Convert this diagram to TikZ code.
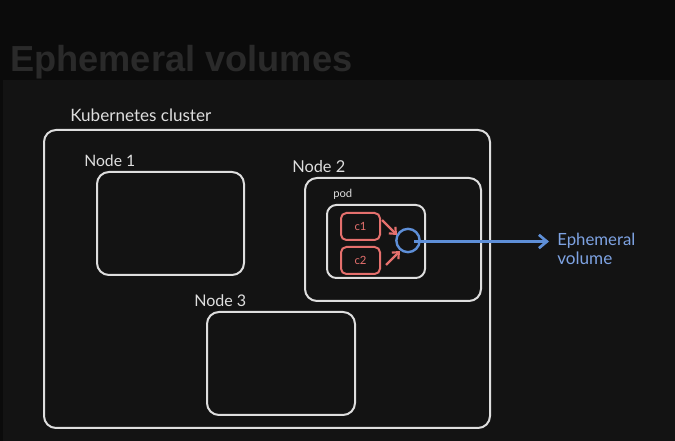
\documentclass[tikz,border=0pt]{standalone}
\usepackage{fontspec}
\setmainfont{Lato}
\newfontfamily\titlefont{Liberation Sans}
\usetikzlibrary{arrows.meta}
\definecolor{bgdark}{HTML}{0B0B0B}
\definecolor{bgpanel}{HTML}{131313}
\definecolor{titlegray}{HTML}{2A2A2A}
\definecolor{strokew}{HTML}{DEDEDE}
\definecolor{redc}{HTML}{E5706D}
\definecolor{bluec}{HTML}{5E8FD8}
\definecolor{bluet}{HTML}{7EA3E3}
\newcommand{\lbl}[2]{\resizebox{#1}{!}{#2}}
\tikzset{
  wbox/.style={draw=strokew, line width=1.5pt, rounded corners=9pt, inner sep=0pt},
  rbox/.style={draw=redc, line width=1.5pt, rounded corners=4pt, inner sep=0pt, minimum width=29.25pt, minimum height=20.25pt, text=redc},
  wlabel/.style={text=strokew, inner sep=0pt, anchor=west},
  rarrow/.style={draw=redc, line width=1.6pt, -{Straight Barb[length=4pt,width=7pt]}},
  barrow/.style={draw=bluec, line width=2pt, -{Straight Barb[length=6pt,width=10pt]}},
}
\begin{document}
\begin{tikzpicture}[x=0.75pt,y=-0.75pt]
\useasboundingbox (0,0) rectangle (675,441);
\fill[bgdark] (0,0) rectangle (675,441);
\fill[bgpanel] (3,80) rectangle (675,441);
\node[inner sep=0pt, anchor=base west, text=titlegray] (title) at (10,72) {\lbl{256.5pt}{\titlefont\bfseries Ephemeral volumes}};

% boxes
\node[wbox, minimum width=334.5pt, minimum height=223.5pt] (cluster) at (267,279) {};
\node[wbox, minimum width=110.25pt, minimum height=77.25pt] (node1) at (170.5,223.5) {};
\node[wbox, minimum width=132pt, minimum height=92.25pt] (node2) at (393,239.5) {};
\node[wbox, rounded corners=7pt, minimum width=73.5pt, minimum height=54.75pt] (pod) at (376,241.5) {};
\node[wbox, minimum width=111pt, minimum height=77.25pt] (node3) at (281,363.5) {};

% labels
\node[wlabel] (lcluster) at (70,115) {\lbl{105.75pt}{Kubernetes cluster}};
\node[wlabel] (lnode1) at (84,161) {\lbl{38.25pt}{Node 1}};
\node[wlabel] (lnode2) at (292,167) {\lbl{39.75pt}{Node 2}};
\node[wlabel] (lpod) at (333,194.5) {\lbl{14.25pt}{pod}};
\node[wlabel] (lnode3) at (194,301) {\lbl{39pt}{Node 3}};

% containers
\node[rbox] (c1) at (360.5,226.5) {\lbl{9pt}{c1}};
\node[rbox] (c2) at (360.5,260.5) {\lbl{9pt}{c2}};

% volume
\node[draw=bluec, line width=1.8pt, circle, minimum size=17.5pt, inner sep=0pt] (vol) at (408,240.5) {};
\coordinate (c1s) at (382,220);
\coordinate (c1e) at (397,235);
\coordinate (c2s) at (386,265);
\coordinate (c2e) at (400,251);
\draw[rarrow] (c1s) -- (c1e);
\draw[rarrow] (c2s) -- (c2e);

\node[text=bluet, inner sep=0pt, anchor=west, align=left] (lvol) at (557,249) {\lbl{58.5pt}{Ephemeral}\\[2pt]\lbl{41.25pt}{volume}};
\coordinate (vstart) at (414,241.5);
\coordinate (vend) at (549,241.5);
\draw[barrow] (vstart) -- (vend);
\end{tikzpicture}
\end{document}
